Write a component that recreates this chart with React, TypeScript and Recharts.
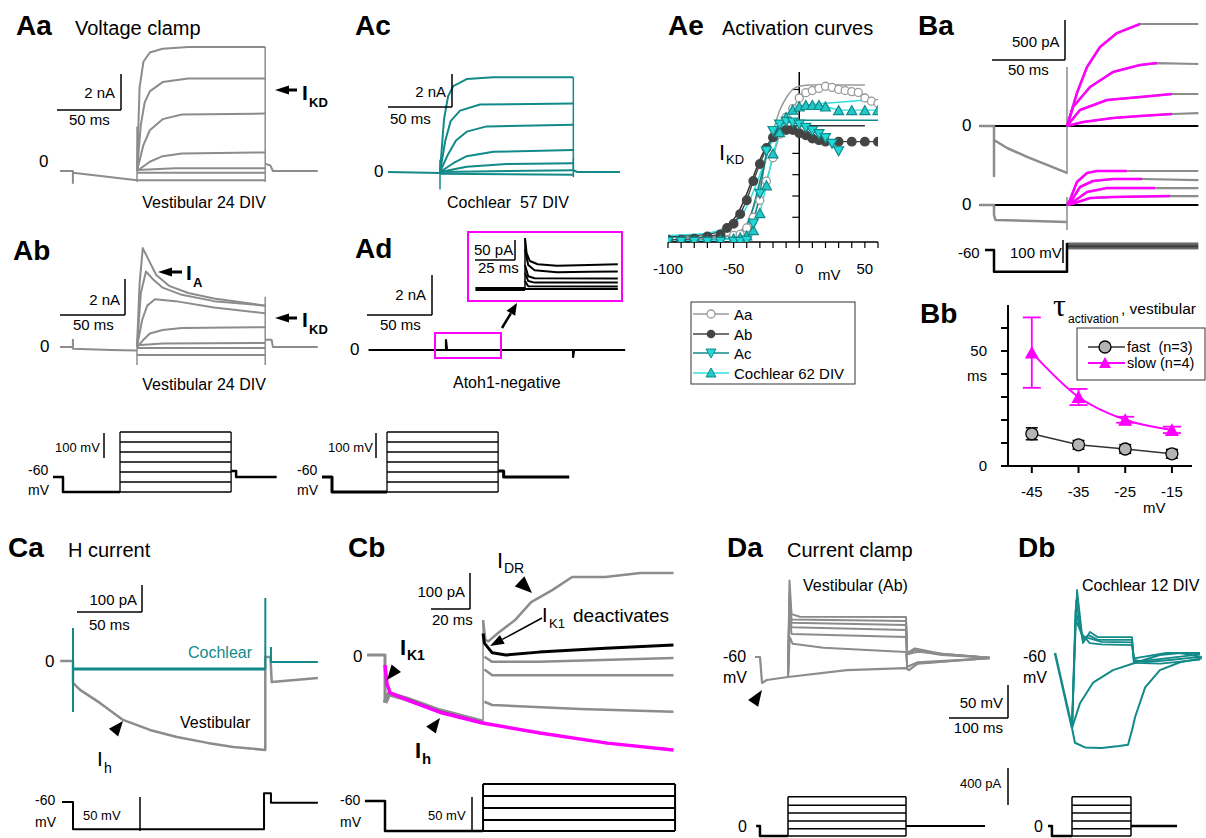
import { LineChart, Line, XAxis, YAxis, ReferenceLine, ErrorBar } from 'recharts';

type Pt = number[];
type Tr = { d: Pt[]; c: string; w?: number; curve?: 'linear' | 'monotone' };

const GRAY = '#8c8c8c';
const TEAL = '#128a8a';
const MAG = '#ff00ff';
const CYAN = '#2fe0e0';
const FONT = '"Liberation Sans", Arial, sans-serif';

// ---------- Aa: vestibular voltage clamp (ms, nA)
const aaPre = [[-60, 0], [-50, 0], [-50, -0.65], [-50, -0.1], [0, -0.5]];
const aaSteps = [
  [[0, 0], [2, 4.5], [5, 5.9], [10, 6.4], [20, 6.6], [40, 6.7], [100, 6.7]],
  [[0, 0], [3, 2.5], [6, 3.7], [10, 4.3], [20, 4.8], [40, 5.0], [100, 5.0]],
  [[0, 0], [5, 1.4], [10, 2.2], [20, 2.8], [35, 3.05], [100, 3.1]],
  [[0, 0], [10, 0.5], [20, 0.8], [35, 0.95], [100, 1.0]],
  [[0, 0.05], [30, 0.15], [100, 0.15]],
  [[0, -0.1], [100, -0.1]],
  [[0, -0.5], [100, -0.5]],
];
const aaCaps = [[[0, -0.6], [0, 2.4]], [[100, -0.6], [100, 6.7]]];
const aaPost = [[100, 0.4], [104, 0.3], [106, 0], [141, 0]];

// ---------- Ab
const abPre = [[-60, 0], [-50, 0], [-50, 0.4], [-50, -0.1], [-20, -0.17], [0, -0.2]];
const abSteps = [
  [[0, 0], [2, 3.5], [4.5, 5.5], [8, 5.0], [15, 4.0], [25, 3.4], [40, 3.0], [60, 2.7], [80, 2.5], [100, 2.3]],
  [[0, 0], [3, 3.0], [7, 4.2], [12, 3.8], [20, 3.3], [35, 2.9], [60, 2.55], [100, 2.3]],
  [[0, 0], [4, 1.5], [8, 2.3], [14, 2.65], [30, 2.55], [60, 2.2], [100, 1.87]],
  [[0, 0], [5, 0.4], [10, 0.75], [20, 0.95], [35, 1.05], [100, 1.1]],
  [[0, 0.1], [20, 0.2], [100, 0.22]],
  [[0, -0.05], [100, -0.05]],
  [[0, -0.44], [100, -0.44]],
];
const abCaps = [[[0, -1.0], [0, 0.3]], [[100, -1.0], [100, 2.8]]];
const abPost = [[100, 0.4], [105, 0.4], [106, 0], [141, 0]];

// ---------- Ac cochlear (teal)
const acPre = [[-39, 0], [0, -0.05]];
const acSteps = [
  [[0, 0], [3, 3.0], [6, 4.3], [10, 4.9], [20, 5.3], [40, 5.4], [100, 5.4]],
  [[0, 0], [4, 1.8], [8, 2.9], [15, 3.5], [30, 3.85], [100, 3.9]],
  [[0, 0], [6, 1.0], [12, 1.8], [20, 2.3], [35, 2.6], [100, 2.7]],
  [[0, 0], [10, 0.5], [20, 0.9], [40, 1.15], [100, 1.25]],
  [[0, 0], [20, 0.3], [50, 0.45], [100, 0.5]],
  [[0, 0], [100, 0.1]],
  [[0, -0.1], [100, -0.15]],
];
const acCaps = [[[0, -1.0], [0, 0.7]], [[100, -0.3], [100, 5.4]], [[100, 0.8], [100, 0.1]]];
const acPost = [[100, 0.1], [103, 0], [135, 0]];

// ---------- Ad atoh1-negative
const adMain = [[-61, 0], [0, 0], [0, 0.5], [0.8, 0], [100, 0], [100, -0.35], [100.8, 0], [141, 0]];
const adInsetBase = [[-31, 0], [0, 0]];
const adInset = [
  [[0, 127], [1, 90], [3, 70], [8, 62], [20, 58], [40, 60], [58, 62]],
  [[0, 100], [2, 60], [6, 47], [20, 42], [40, 43], [58, 44]],
  [[0, 60], [2, 32], [6, 27], [58, 26]],
  [[0, 40], [2, 20], [6, 16], [58, 16]],
  [[0, 20], [2, 7], [58, 6]],
  [[0, 0], [58, 0]],
];
const adInsetSpike = [[0, 0], [0, 127]];

// ---------- A voltage protocols (mV)
const protoLevels = [-120, -80, -40, 0, 40, 80, 120];
const protoAaHold = [[-60.3, -60], [-51.3, -60], [-51.3, -120], [0, -120]];
const protoAaPost = [[100, -36], [104.5, -36], [104.5, -60], [141, -60]];
const protoAdHold = [[-58.5, -60], [-49.5, -60], [-49.5, -120], [0, -120]];
const protoAdPost = [[100, -36], [105, -36], [105, -60], [164, -60]];

// ---------- Ae activation curves (mV, nA)
const aaV = [-100, -90, -80, -70, -60, -50, -45, -40, -35, -30, -25, -20, -15, -10, -5, 0, 5, 10, 15, 20, 25, 30, 35, 40, 45, 50, 55, 60];
const aaI = [-0.05, -0.05, -0.05, 0, 0.05, 0.15, 0.2, 0.5, 1.0, 1.8, 2.7, 3.8, 4.9, 5.7, 6.1, 6.6, 6.85, 6.95, 7.05, 7.15, 7.1, 7.0, 6.95, 6.9, 6.86, 6.6, 6.45, 6.35];
const abV = [-100, -90, -80, -70, -60, -55, -50, -45, -40, -35, -30, -25, -20, -15, -10, -5, 0, 5, 10, 15, 20, 30, 40, 50, 60];
const abI = [-0.05, -0.05, 0, 0.1, 0.2, 0.5, 0.7, 1.15, 1.8, 2.7, 3.5, 4.25, 4.75, 5.0, 5.1, 5.1, 4.95, 4.85, 4.7, 4.62, 4.55, 4.55, 4.55, 4.55, 4.55];
const acV = [-100, -90, -80, -70, -60, -50, -45, -40, -35, -30, -25, -20, -15, -10, -5, 0, 5, 10, 15, 20, 25, 30];
const acI = [-0.15, -0.15, -0.15, -0.15, -0.15, -0.15, -0.15, -0.1, 0.7, 2.1, 4.1, 5.05, 5.35, 5.48, 5.45, 5.35, 5.2, 5.05, 4.9, 4.72, 4.45, 4.1];
const c62V = [-100, -90, -80, -70, -60, -50, -45, -40, -35, -30, -25, -20, -15, -10, -5, 0, 5, 10, 15, 20, 30, 40, 50, 60];
const c62I = [-0.1, -0.1, -0.1, -0.1, -0.05, 0, 0.05, 0.15, 0.4, 1.2, 2.5, 4.0, 5.0, 5.7, 6.05, 6.2, 6.27, 6.27, 6.27, 6.2, 6.03, 6.03, 6.03, 6.03];
const fitAa = [[-100, 0.05], [-60, 0.1], [-50, 0.2], [-40, 0.7], [-35, 1.4], [-30, 2.5], [-25, 3.8], [-20, 5.0], [-15, 6.0], [-10, 6.6], [-5, 7.0], [0, 7.15], [10, 7.21], [50, 7.21]];
const fitAb = [[-100, 0.1], [-70, 0.2], [-60, 0.4], [-50, 0.9], [-45, 1.4], [-40, 2.1], [-35, 2.9], [-30, 3.7], [-25, 4.3], [-20, 4.8], [-15, 5.1], [-10, 5.25], [0, 5.3], [50, 5.3]];
const fitAc = [[-100, -0.1], [-50, 0], [-45, 0.2], [-40, 0.6], [-35, 1.5], [-30, 2.7], [-25, 3.9], [-20, 4.8], [-15, 5.25], [-10, 5.45], [0, 5.55], [60, 5.56]];
const fitC62 = [[-100, 0.15], [-70, 0.25], [-60, 0.4], [-50, 0.7], [-45, 1.0], [-40, 1.5], [-35, 2.2], [-30, 3.0], [-25, 3.9], [-20, 4.7], [-15, 5.3], [-10, 5.75], [-5, 6.0], [0, 6.2], [20, 6.35], [40, 6.45], [60, 6.5]];
const aeXTicks = [-100, -90, -80, -70, -60, -50, -40, -30, -20, -10, 0, 10, 20, 30, 40, 50, 60];
const aeYTicks = [1, 2, 3, 4, 5, 6, 7];

// ---------- Ba (ms, pA)
const baTopPre = [[-60, 0], [-50, 0], [-50, -625], [-50, -175], [-41, -275], [-27.4, -387], [-13.7, -487], [0, -587]];
const baTopStep = [[0, -600], [0, 737]];
const baTop = [
  [[0, 0], [0.7, 37], [6.8, 412], [13.7, 737], [22.6, 987], [34.2, 1162], [50, 1275], [90, 1275]],
  [[0, 0], [4.1, 237], [15.8, 487], [31.5, 675], [50, 762], [61.6, 787], [90, 775]],
  [[0, 0], [8.9, 200], [27.4, 325], [50, 362], [72, 400], [90, 400]],
  [[0, 0], [11, 50], [31.5, 100], [50, 125], [72, 150], [90, 162]],
];
const baTopFitEnd = [50, 61.6, 72, 72];
const baBotPre = [[-60, 0], [-50, 0], [-50, -125], [-49, -187], [0, -212]];
const baBotStep = [[0, 100], [0, -312]];
const baBot = [
  [[0, 0], [2, 62], [6.8, 287], [13.7, 400], [20.5, 425], [41, 425], [90, 425]],
  [[0, 0], [3.4, 62], [8.9, 225], [17.8, 300], [31.5, 325], [51.4, 325], [90, 312]],
  [[0, 0], [4.1, 37], [13.7, 162], [27.4, 212], [60.3, 212], [90, 212]],
  [[0, 0], [5.5, 25], [15.8, 87], [31.5, 100], [70.5, 112], [90, 112]],
];
const baBotFitEnd = [41, 51.4, 60.3, 70.5];
const baZero = [[-60, 0], [90, 0]];
const baProtoHold = [[-56.2, -60], [-50, -60], [-50, -155], [0, -155], [0, -30]];
const baLevels = [-30, -35, -40, -45, -50, -55];

// ---------- Bb tau activation
const bbV = [-45, -35, -25, -15];
const fastTau = [14, 9.2, 7.4, 5.3];
const fastErr = [2.6, 1.9, 1.9, 1.9];
const slowTau = [49.3, 30, 20.1, 15.7];
const slowErr = [15.3, 3.5, 1.3, 1.4];

// ---------- Ca H current (ms, pA)
const caVest = [[-10, 0], [0, 0], [0, -81], [5.5, -107], [21, -155], [39, -218], [60, -255], [81, -281], [105, -303], [125, -318], [150, -329], [150, 15], [154, 15], [155, -78], [191, -63]];
const caCoch = [[0, -30], [150, -30]];
const caCochSpikes = [[[0, 122], [0, -189]], [[150, 233], [150, -30]], [[154.4, 52], [154.4, -4], [191, -4]]];
const caProto = [[-8.6, -60], [0, -60], [0, -100], [149, -100], [149, -47], [154.4, -47], [154.4, -61], [191, -61]];

// ---------- Cb
const cbPre = [[-9.2, 0], [0, 0], [0, -133]];
const cbGrayH = [[0, -133], [2, -108], [11, -122], [28, -155], [50, -186]];
const cbBlackH = [[0, -28], [1, -80], [2.6, -103], [11.3, -122], [28, -156], [50, -187]];
const cbFit = [[0, -28], [1, -80], [2.6, -105], [11.3, -125], [28, -159], [50, -189], [79.5, -217], [114, -245], [148, -264]];
const cbStepV = [[50.3, -189], [50.3, 97]];
const cbIdr = [[50.3, 97], [51.5, 42], [53, 38], [58, 61], [66.7, 97], [75, 147], [86, 181], [96, 217], [113, 217], [131, 228], [148, 228]];
const cbK1 = [[50.3, 60], [51, 33], [55, 6], [62, 0], [79, 8], [113, 19], [148, 28]];
const cbOthers = [
  [[51, -5], [55, -19], [79, -19], [148, -8]],
  [[51, -40], [55, -56], [148, -56]],
  [[51, -130], [55, -139], [100, -150], [148, -158]],
];
const cbProtoHold = [[-10.3, -60], [0, -60], [0, -104], [50.3, -104]];
const cbLevels = [-35, -52.6, -70.3, -88, -104];

// ---------- Da current clamp (ms, mV)
const daBase = [[-56, -60], [-47.5, -60], [-44, -99.4], [-36, -94.8], [0, -90.3], [100, -80], [200, -76.7], [205, -80], [220, -70], [342, -61.5]];
const daSteps = [
  [[0, -90], [2.5, 56], [6, 5], [20, 1], [200, 0.6], [202, -54], [215, -47], [260, -55], [342, -61]],
  [[0, -90], [2.5, 35], [6, -3], [200, -5.5], [202, -54], [215, -48], [260, -56], [342, -61]],
  [[0, -90], [2.5, 25], [6, -8], [200, -11.5], [202, -55], [215, -50], [260, -57], [342, -61]],
  [[0, -90], [2.5, 15], [6, -15], [200, -19], [202, -56], [220, -52], [342, -61]],
  [[0, -90], [2.5, 5], [6, -25], [200, -29.7], [202, -75], [220, -68], [342, -62]],
  [[0, -90], [3, -30], [8, -40], [60, -46], [200, -52.4], [202, -75], [215, -70], [342, -62]],
];
const daProtoHold = [[-54, 0], [-47.5, 0], [-47.5, -108], [0, -108]];
const daProtoPost = [[200, 0], [334, 0]];
const ccLevels = [-108, -30, 55, 140, 225, 315];

// ---------- Db
const dbPre = [[-28.8, -60], [0, -173.6]];
const dbSpikes = [
  [[0, -173.6], [8.5, 35.5], [18.6, -45], [30.5, -28], [44, -36], [101.7, -36], [105, -70.6], [124, -73.6], [166, -70.6], [217, -66]],
  [[0, -173.6], [7, 20], [18, -40], [28, -33], [44, -40], [101.7, -40], [105, -73], [140, -70], [217, -62]],
  [[0, -173.6], [6, 5], [17, -35], [30, -38], [50, -43], [101.7, -44], [105, -75], [150, -76], [217, -70]],
  [[0, -173.6], [6, -10], [16, -30], [30, -45], [50, -47], [101.7, -48], [105, -68], [160, -60], [217, -60]],
];
const dbLow = [[0, -173.6], [5, -196], [22, -203], [50, -204], [80, -201], [95, -199], [101.7, -177], [107, -157], [124, -112], [149, -86], [183, -74], [220, -68]];
const dbMid = [[0, -173.6], [13.6, -136], [35.6, -105], [69.5, -86], [110, -74], [149, -63], [183, -60], [220, -66]];
const dbProtoHold = [[-40.7, 0], [-34, 0], [-34, -108], [0, -108]];
const dbProtoPost = [[100, 0], [178, 0]];

const toRows = (d: Pt[]) => d.map(([t, v]) => ({ t, v }));
const zipRows = (xs: number[], ys: number[]) => xs.map((t, i) => ({ t, v: ys[i] }));
const upTo = (d: Pt[], end: number) => d.filter(([t]) => t <= end);
const box = (levels: number[], t0: number, t1: number): Pt[][] => [
  ...levels.map((l) => [[t0, l], [t1, l]]),
  [[t0, Math.min(...levels)], [t0, Math.max(...levels)]],
  [[t1, Math.min(...levels)], [t1, Math.max(...levels)]],
];
const many = (ds: Pt[][], c: string, w = 2): Tr[] => ds.map((d) => ({ d, c, w }));

// frame: [left, top, width, height] in page px, origin [x0,y0] = where t=0, v=0, scale units per px
function Traces({ frame, origin, scale, lines }: { frame: number[]; origin: number[]; scale: number[]; lines: Tr[] }) {
  const [left, top, width, height] = frame;
  const xd = [(left - origin[0]) * scale[0], (left + width - origin[0]) * scale[0]];
  const yd = [(origin[1] - top - height) * scale[1], (origin[1] - top) * scale[1]];
  return (
    <div style={{ position: 'absolute', left, top, width, height }}>
      <LineChart width={width} height={height} margin={{ top: 0, right: 0, bottom: 0, left: 0 }}>
        <XAxis type="number" dataKey="t" domain={xd} hide allowDataOverflow />
        <YAxis type="number" domain={yd} hide allowDataOverflow />
        {lines.map((l, i) => (
          <Line key={i} data={toRows(l.d)} dataKey="v" type={l.curve ?? 'linear'} stroke={l.c} strokeWidth={l.w ?? 2}
            dot={false} isAnimationActive={false} strokeLinejoin="round" />
        ))}
      </LineChart>
    </div>
  );
}

const circleDot = (fill: string, stroke: string, r: number) => (p: any) => (
  <circle key={p.index} cx={p.cx} cy={p.cy} r={r} fill={fill} stroke={stroke} strokeWidth={1.3} />
);
const triDot = (fill: string, stroke: string, s: number, down: boolean) => (p: any) => {
  const h = s * 0.9;
  const d = down
    ? `M${p.cx - s / 2},${p.cy - h / 2}L${p.cx + s / 2},${p.cy - h / 2}L${p.cx},${p.cy + h / 2}Z`
    : `M${p.cx - s / 2},${p.cy + h / 2}L${p.cx + s / 2},${p.cy + h / 2}L${p.cx},${p.cy - h / 2}Z`;
  return <path key={p.index} d={d} fill={fill} stroke={stroke} strokeWidth={1.2} />;
};

function ActivationChart() {
  const series = [
    { rows: zipRows(aaV, aaI), c: '#9a9a9a', dot: circleDot('#fff', '#9a9a9a', 4) },
    { rows: zipRows(abV, abI), c: '#444', dot: circleDot('#444', '#444', 4.3) },
    { rows: zipRows(c62V, c62I), c: CYAN, dot: triDot('#22c8c8', TEAL, 10, false) },
    { rows: zipRows(acV, acI), c: TEAL, dot: triDot('#22d8d8', TEAL, 10, true) },
  ];
  const fits = [
    { d: fitAa, c: '#9a9a9a' }, { d: fitAb, c: '#333' }, { d: fitAc, c: TEAL }, { d: fitC62, c: CYAN },
  ];
  return (
    <div style={{ position: 'absolute', left: 630, top: 66 }}>
      <LineChart width={258} height={216} margin={{ top: 6, right: 10, bottom: 0, left: 38 }}>
        <XAxis type="number" dataKey="t" domain={[-100, 60]} ticks={aeXTicks} interval={0} tickSize={6} tickMargin={15}
          tickFormatter={(v: number) => (v % 50 === 0 ? String(v) : '')} height={40} allowDataOverflow
          axisLine={{ stroke: '#000', strokeWidth: 1.5 }} tickLine={{ stroke: '#000', strokeWidth: 1.2 }}
          tick={{ fill: '#000', fontSize: 15, fontFamily: FONT }} />
        <YAxis type="number" domain={[-0.16, 7.82]} hide allowDataOverflow />
        <ReferenceLine x={0} stroke="#000" strokeWidth={1.5} />
        {aeYTicks.map((k) => (
          <ReferenceLine key={k} segment={[{ x: -5.3, y: k }, { x: 0, y: k }]} stroke="#000" strokeWidth={1.2} />
        ))}
        {fits.map((f, i) => (
          <Line key={'f' + i} data={toRows(f.d)} dataKey="v" type="monotone" stroke={f.c} strokeWidth={1.5} dot={false} isAnimationActive={false} />
        ))}
        {series.map((s, i) => (
          <Line key={'s' + i} data={s.rows} dataKey="v" type="linear" stroke={s.c} strokeWidth={1.4} dot={s.dot} isAnimationActive={false} />
        ))}
      </LineChart>
    </div>
  );
}

function TauChart() {
  const rows = bbV.map((v, i) => ({ v, fast: fastTau[i], fastErr: fastErr[i], slow: slowTau[i], slowErr: slowErr[i] }));
  return (
    <div style={{ position: 'absolute', left: 958, top: 300 }}>
      <LineChart width={248} height={206} data={rows} margin={{ top: 5, right: 14, bottom: 0, left: 0 }}>
        <XAxis type="number" dataKey="v" domain={[-50.1, -10.7]} ticks={bbV} interval={0} tickSize={7} tickMargin={13} height={40}
          axisLine={{ stroke: '#000', strokeWidth: 2 }} tickLine={{ stroke: '#000', strokeWidth: 2 }}
          tick={{ fill: '#000', fontSize: 15, fontFamily: FONT }} allowDataOverflow />
        <YAxis type="number" domain={[0, 70]} ticks={[0, 10, 20, 30, 40, 50, 60]} interval={0} tickSize={7} tickMargin={14} width={50}
          tickFormatter={(v: number) => (v === 0 || v === 50 ? String(v) : '')}
          axisLine={{ stroke: '#000', strokeWidth: 2 }} tickLine={{ stroke: '#000', strokeWidth: 2 }}
          tick={{ fill: '#000', fontSize: 15, fontFamily: FONT }} allowDataOverflow />
        <Line dataKey="fast" type="linear" stroke="#333" strokeWidth={1.5} dot={circleDot('#b4b4b4', '#000', 6)} isAnimationActive={false}>
          <ErrorBar dataKey="fastErr" width={6} stroke="#000" strokeWidth={1.5} direction="y" />
        </Line>
        <Line dataKey="slow" type="monotone" stroke={MAG} strokeWidth={2} dot={triDot(MAG, MAG, 12, false)} isAnimationActive={false}>
          <ErrorBar dataKey="slowErr" width={9} stroke={MAG} strokeWidth={1.8} direction="y" />
        </Line>
      </LineChart>
    </div>
  );
}

function T({ x, y, s = 15, b = false, a = 'start', c = '#000', f, children }: any) {
  return (
    <text x={x} y={y} fontSize={s} fontWeight={b ? 'bold' : 'normal'} textAnchor={a} fill={c} fontFamily={f}>{children}</text>
  );
}
function Ln({ x1, y1, x2, y2, w = 1.5, c = '#000' }: any) {
  return <line x1={x1} y1={y1} x2={x2} y2={y2} stroke={c} strokeWidth={w} />;
}
// arrowhead with tip at (x,y), pointing from (fx,fy)
function Head({ x, y, fx, fy, len = 14, hw = 5, shaft = 0, c = '#000' }: any) {
  const dx = x - fx;
  const dy = y - fy;
  const n = Math.hypot(dx, dy);
  const ux = dx / n;
  const uy = dy / n;
  const bx = x - ux * len;
  const by = y - uy * len;
  const pts = `${x},${y} ${bx - uy * hw},${by + ux * hw} ${bx + uy * hw},${by - ux * hw}`;
  return (
    <g>
      {shaft > 0 && <line x1={fx} y1={fy} x2={bx} y2={by} stroke={c} strokeWidth={shaft} />}
      <polygon points={pts} fill={c} />
    </g>
  );
}

function Overlay() {
  const nb = '\u00a0';
  return (
    <svg width={1206} height={838} style={{ position: 'absolute', left: 0, top: 0 }} fontFamily={FONT}>
      {/* Aa */}
      <T x={16} y={35} s={28} b>Aa</T>
      <T x={75} y={35} s={20}>Voltage clamp</T>
      <T x={39} y={167} s={17}>0</T>
      <Ln x1={121} y1={74} x2={121} y2={110} />
      <Ln x1={57} y1={110} x2={121} y2={110} />
      <T x={115} y={98} a="end">2 nA</T>
      <T x={69} y={125}>50 ms</T>
      <Head x={275} y={90} fx={297} fy={90} len={14} hw={4.5} shaft={3} />
      <T x={302} y={100} s={21} b>I</T>
      <T x={309} y={107} s={13} b>KD</T>
      <T x={204} y={208} s={16} a="middle">Vestibular 24 DIV</T>
      {/* Ab */}
      <T x={13} y={260} s={28} b>Ab</T>
      <T x={40} y={352} s={17}>0</T>
      <Ln x1={125} y1={279} x2={125} y2={315} />
      <Ln x1={60} y1={315} x2={125} y2={315} />
      <T x={120} y={305} a="end">2 nA</T>
      <T x={73} y={330}>50 ms</T>
      <Head x={158} y={272} fx={182} fy={272} len={14} hw={4.5} shaft={3} />
      <T x={186} y={280} s={21} b>I</T>
      <T x={193} y={287} s={13} b>A</T>
      <Head x={275} y={318} fx={297} fy={318} len={14} hw={4.5} shaft={3} />
      <T x={302} y={327} s={21} b>I</T>
      <T x={309} y={334} s={13} b>KD</T>
      <T x={204} y={390} s={16} a="middle">Vestibular 24 DIV</T>
      {/* A protocols */}
      <T x={55} y={452} s={13}>100 mV</T>
      <Ln x1={104} y1={433} x2={104} y2={458} />
      <T x={28} y={475} s={14}>-60</T>
      <T x={28} y={495} s={14}>mV</T>
      <T x={328} y={452} s={13}>100 mV</T>
      <Ln x1={376} y1={433} x2={376} y2={458} />
      <T x={297} y={475} s={14}>-60</T>
      <T x={297} y={495} s={14}>mV</T>
      {/* Ac */}
      <T x={355} y={35} s={28} b>Ac</T>
      <T x={374} y={177} s={17}>0</T>
      <Ln x1={452} y1={74} x2={452} y2={107} />
      <Ln x1={388} y1={107} x2={452} y2={107} />
      <T x={446} y={97} a="end">2 nA</T>
      <T x={390} y={124}>50 ms</T>
      <T x={447} y={208} s={16}>{`Cochlear${nb}${nb}57 DIV`}</T>
      {/* Ad */}
      <T x={355} y={258} s={28} b>Ad</T>
      <Ln x1={432} y1={275} x2={432} y2={315} />
      <Ln x1={367} y1={315} x2={432} y2={315} />
      <T x={426} y={300} a="end">2 nA</T>
      <T x={380} y={330}>50 ms</T>
      <T x={350} y={355} s={17}>0</T>
      <rect x={435} y={333} width={66} height={25} fill="none" stroke={MAG} strokeWidth={2} />
      <rect x={468} y={232} width={154} height={69} fill="none" stroke={MAG} strokeWidth={2} />
      <Ln x1={515} y1={240} x2={515} y2={260} />
      <Ln x1={475} y1={260} x2={515} y2={260} />
      <T x={474} y={255}>50 pA</T>
      <T x={478} y={273}>25 ms</T>
      <Head x={517} y={303} fx={502} fy={328} len={12} hw={5} shaft={2.5} />
      <T x={453} y={388} s={16}>Atoh1-negative</T>
      {/* Ae */}
      <T x={668} y={35} s={28} b>Ae</T>
      <T x={722} y={35} s={20}>Activation curves</T>
      <T x={719} y={160} s={22}>I</T>
      <T x={726} y={164} s={13}>KD</T>
      <T x={818} y={280} s={15}>mV</T>
      <rect x={691} y={302} width={164} height={82} fill="#fff" stroke="#333" strokeWidth={1} />
      {[
        { y: 314, c: '#9a9a9a', label: 'Aa' },
        { y: 334, c: '#444', label: 'Ab' },
        { y: 353, c: TEAL, label: 'Ac' },
        { y: 373, c: CYAN, label: 'Cochlear 62 DIV' },
      ].map((r, i) => (
        <g key={r.label}>
          <Ln x1={693} y1={r.y} x2={729} y2={r.y} c={r.c} w={1.5} />
          {i === 0 && <circle cx={711} cy={r.y} r={4} fill="#fff" stroke={r.c} strokeWidth={1.3} />}
          {i === 1 && <circle cx={711} cy={r.y} r={4.3} fill={r.c} />}
          {i === 2 && <path d={`M706,${r.y - 4}L716,${r.y - 4}L711,${r.y + 5}Z`} fill="#22d8d8" stroke={TEAL} />}
          {i === 3 && <path d={`M706,${r.y + 4}L716,${r.y + 4}L711,${r.y - 5}Z`} fill="#22c8c8" stroke={TEAL} />}
          <T x={734} y={r.y + 5.5} s={15}>{r.label}</T>
        </g>
      ))}
      {/* Ba */}
      <T x={918} y={35} s={28} b>Ba</T>
      <Ln x1={1065} y1={20} x2={1065} y2={60} />
      <Ln x1={992} y1={60} x2={1065} y2={60} />
      <T x={1012} y={47}>500 pA</T>
      <T x={1008} y={75}>50 ms</T>
      <T x={962} y={131} s={17}>0</T>
      <T x={962} y={210} s={17}>0</T>
      <T x={958} y={258}>-60</T>
      <T x={1010} y={258}>100 mV</T>
      <Ln x1={1063} y1={240} x2={1063} y2={263} />
      {/* Bb */}
      <T x={920} y={323} s={28} b>Bb</T>
      <T x={1053} y={316} s={32} f='"Liberation Serif", "DejaVu Serif", serif'>τ</T>
      <T x={1068} y={323} s={12}>activation</T>
      <T x={1121} y={314} s={15.5}>, vestibular</T>
      <T x={967} y={381}>ms</T>
      <T x={1143} y={513}>mV</T>
      <rect x={1077} y={328} width={128} height={52} fill="#fff" stroke="#333" strokeWidth={1} />
      <Ln x1={1088} y1={347} x2={1125} y2={347} c="#333" />
      <circle cx={1105} cy={347} r={6} fill="#b4b4b4" stroke="#000" strokeWidth={1.3} />
      <T x={1127} y={352} s={14.5}>{`fast${nb}${nb}(n=3)`}</T>
      <Ln x1={1088} y1={363} x2={1125} y2={363} c={MAG} w={2} />
      <path d="M1099,368L1111,368L1105,357Z" fill={MAG} />
      <T x={1127} y={368} s={14.5}>slow (n=4)</T>
      {/* Ca */}
      <T x={8} y={557} s={28} b>Ca</T>
      <T x={68} y={557} s={20}>H current</T>
      <Ln x1={142} y1={585} x2={142} y2={612} />
      <Ln x1={77} y1={612} x2={142} y2={612} />
      <T x={137} y={605} a="end">100 pA</T>
      <T x={89} y={630}>50 ms</T>
      <T x={45} y={667} s={17}>0</T>
      <T x={188} y={658} s={16} c={TEAL}>Cochlear</T>
      <T x={180} y={728} s={16}>Vestibular</T>
      <Head x={123} y={721} fx={110} fy={737} len={15} hw={6} />
      <T x={97} y={766} s={21}>I</T>
      <T x={104} y={773} s={14}>h</T>
      <T x={35} y={805} s={14}>-60</T>
      <T x={35} y={827} s={14}>mV</T>
      <T x={83} y={820} s={13}>50 mV</T>
      <Ln x1={140} y1={797} x2={140} y2={831} />
      {/* Cb */}
      <T x={348} y={557} s={28} b>Cb</T>
      <Ln x1={470} y1={573} x2={470} y2={609} />
      <Ln x1={431} y1={609} x2={470} y2={609} />
      <T x={465} y={597} a="end">100 pA</T>
      <T x={432} y={625}>20 ms</T>
      <T x={353} y={662} s={17}>0</T>
      <T x={497} y={568} s={22}>I</T>
      <T x={504} y={573} s={14}>DR</T>
      <Head x={532} y={593} fx={515} fy={577} len={17} hw={7} />
      <T x={542} y={622} s={20}>I</T>
      <T x={549} y={628} s={13}>K1</T>
      <T x={573} y={622} s={19}>deactivates</T>
      <Head x={490} y={646} fx={542} fy={618} len={14} hw={5} shaft={1.5} />
      <T x={400} y={655} s={22} b>I</T>
      <T x={407} y={660} s={14} b>K1</T>
      <Head x={387} y={680} fx={402} fy={661} len={15} hw={6} />
      <T x={415} y={758} s={22} b>I</T>
      <T x={422} y={764} s={15} b>h</T>
      <Head x={440} y={718} fx={428} fy={734} len={15} hw={6} />
      <T x={340} y={805} s={14}>-60</T>
      <T x={340} y={827} s={14}>mV</T>
      <T x={428} y={820} s={13}>50 mV</T>
      <Ln x1={472} y1={797} x2={472} y2={831} />
      {/* Da */}
      <T x={727} y={557} s={28} b>Da</T>
      <T x={787} y={557} s={20}>Current clamp</T>
      <T x={803} y={591} s={16}>Vestibular (Ab)</T>
      <T x={723} y={662} s={16}>-60</T>
      <T x={723} y={683} s={16}>mV</T>
      <Ln x1={1008} y1={685} x2={1008} y2={718} />
      <Ln x1={949} y1={718} x2={1008} y2={718} />
      <T x={1003} y={708} a="end">50 mV</T>
      <T x={1003} y={733} a="end">100 ms</T>
      <Head x={762} y={690} fx={752} fy={705} len={16} hw={6} />
      <T x={960} y={788} s={13}>400 pA</T>
      <Ln x1={1008} y1={768} x2={1008} y2={805} />
      <T x={738} y={832} s={16}>0</T>
      {/* Db */}
      <T x={1018} y={557} s={28} b>Db</T>
      <T x={1082} y={591} s={16}>Cochlear 12 DIV</T>
      <T x={1023} y={662} s={16}>-60</T>
      <T x={1023} y={683} s={16}>mV</T>
      <T x={1034} y={832} s={16}>0</T>
    </svg>
  );
}

export default function App() {
  return (
    <div style={{ position: 'absolute', left: 0, top: 0, width: 1206, height: 838, background: '#fff', overflow: 'hidden', fontFamily: FONT }}>
      <Traces frame={[55, 40, 265, 155]} origin={[137, 171]} scale={[0.78, 0.054]}
        lines={[{ d: aaPre, c: GRAY }, ...many(aaSteps, GRAY), ...many(aaCaps, GRAY, 1.5), { d: aaPost, c: GRAY }]} />
      <Traces frame={[55, 235, 265, 135]} origin={[137, 347]} scale={[0.78, 0.0556]}
        lines={[{ d: abPre, c: GRAY }, ...many(abSteps, GRAY), ...many(abCaps, GRAY, 1.5), { d: abPost, c: GRAY }]} />
      <Traces frame={[365, 60, 260, 135]} origin={[440, 172]} scale={[0.75, 0.057]}
        lines={[{ d: acPre, c: TEAL }, ...many(acSteps, TEAL), ...many(acCaps, TEAL, 1.5), { d: acPost, c: TEAL }]} />
      <Traces frame={[360, 330, 270, 40]} origin={[446, 350]} scale={[0.787, 0.05]}
        lines={[{ d: adMain, c: '#000', w: 2.2 }]} />
      <Traces frame={[470, 234, 150, 65]} origin={[525, 289]} scale={[0.625, 2.5]}
        lines={[{ d: adInsetBase, c: '#000', w: 4 }, ...many(adInset, '#000', 2), { d: adInsetSpike, c: '#000', w: 1.5 }]} />
      <Traces frame={[50, 428, 230, 70]} origin={[120, 462]} scale={[0.9, 4]}
        lines={[{ d: protoAaHold, c: '#000', w: 2.5 }, ...many(box(protoLevels, 0, 100), '#000', 1.3), { d: protoAaPost, c: '#000', w: 2.5 }]} />
      <Traces frame={[317, 428, 255, 70]} origin={[387, 462]} scale={[0.9, 4]}
        lines={[{ d: protoAdHold, c: '#000', w: 3 }, ...many(box(protoLevels, 0, 100), '#000', 1.3), { d: protoAdPost, c: '#000', w: 3 }]} />
      <ActivationChart />
      <Traces frame={[975, 15, 225, 170]} origin={[1067, 126]} scale={[0.685, 12.5]}
        lines={[{ d: baZero, c: '#000', w: 2 }, { d: baTopPre, c: GRAY, w: 2.5 }, { d: baTopStep, c: GRAY, w: 1.5 },
          ...many(baTop, GRAY, 2.2), ...baTop.map((d, i) => ({ d: upTo(d, baTopFitEnd[i]), c: MAG, w: 2.5 }))]} />
      <Traces frame={[975, 160, 225, 80]} origin={[1067, 205]} scale={[0.685, 12.5]}
        lines={[{ d: baZero, c: '#000', w: 2 }, { d: baBotPre, c: GRAY, w: 2.5 }, { d: baBotStep, c: GRAY, w: 1.5 },
          ...many(baBot, GRAY, 2.2), ...baBot.map((d, i) => ({ d: upTo(d, baBotFitEnd[i]), c: MAG, w: 2.5 }))]} />
      <Traces frame={[975, 235, 225, 43]} origin={[1067, 236.2]} scale={[0.685, 4.35]}
        lines={[{ d: baProtoHold, c: '#000', w: 2.5 }, ...baLevels.map((l) => ({ d: [[0, l], [90, l]], c: '#000', w: 0.8 }))]} />
      <TauChart />
      <Traces frame={[55, 590, 265, 170]} origin={[73, 661]} scale={[0.78, 3.7]}
        lines={[{ d: caVest, c: GRAY, w: 2.5 }, { d: caCoch, c: TEAL, w: 3 }, ...many(caCochSpikes, TEAL, 2)]} />
      <Traces frame={[55, 785, 265, 50]} origin={[73, 761.2]} scale={[0.78, 1.47]}
        lines={[{ d: caProto, c: '#000', w: 2 }]} />
      <Traces frame={[360, 545, 320, 215]} origin={[385, 655]} scale={[0.513, 2.78]}
        lines={[{ d: cbPre, c: GRAY, w: 3 }, { d: cbGrayH, c: GRAY, w: 5 }, { d: cbBlackH, c: '#000', w: 1.2 }, { d: cbStepV, c: GRAY, w: 1.5 },
          { d: cbIdr, c: GRAY, w: 2.5 }, { d: cbK1, c: '#000', w: 3 }, ...many(cbOthers, GRAY, 2.5), { d: cbFit, c: MAG, w: 3.5 }]} />
      <Traces frame={[360, 778, 320, 60]} origin={[385, 760.2]} scale={[0.513, 1.47]}
        lines={[{ d: cbProtoHold, c: '#000', w: 2.5 }, ...many(box(cbLevels, 50.3, 148.8), '#000', 2)]} />
      <Traces frame={[745, 570, 250, 130]} origin={[788, 617.4]} scale={[1.695, 1.515]}
        lines={[{ d: daBase, c: GRAY, w: 2.2 }, ...many(daSteps, GRAY, 2)]} />
      <Traces frame={[745, 765, 250, 73]} origin={[788, 826]} scale={[1.695, 10.8]}
        lines={[{ d: daProtoHold, c: '#000', w: 2.5 }, ...many(box(ccLevels, 0, 200), '#000', 1.5), { d: daProtoPost, c: '#000', w: 2 }]} />
      <Traces frame={[1040, 575, 166, 185]} origin={[1072, 613.4]} scale={[1.695, 1.515]}
        lines={[{ d: dbPre, c: TEAL, w: 2.5 }, ...many(dbSpikes, TEAL, 1.8), { d: dbLow, c: TEAL, w: 2 }, { d: dbMid, c: TEAL, w: 2 }]} />
      <Traces frame={[1040, 765, 166, 73]} origin={[1072, 826]} scale={[1.695, 10.8]}
        lines={[{ d: dbProtoHold, c: '#000', w: 2.5 }, ...many(box(ccLevels, 0, 100), '#000', 1.5), { d: dbProtoPost, c: '#000', w: 2.5 }]} />
      <Overlay />
    </div>
  );
}
